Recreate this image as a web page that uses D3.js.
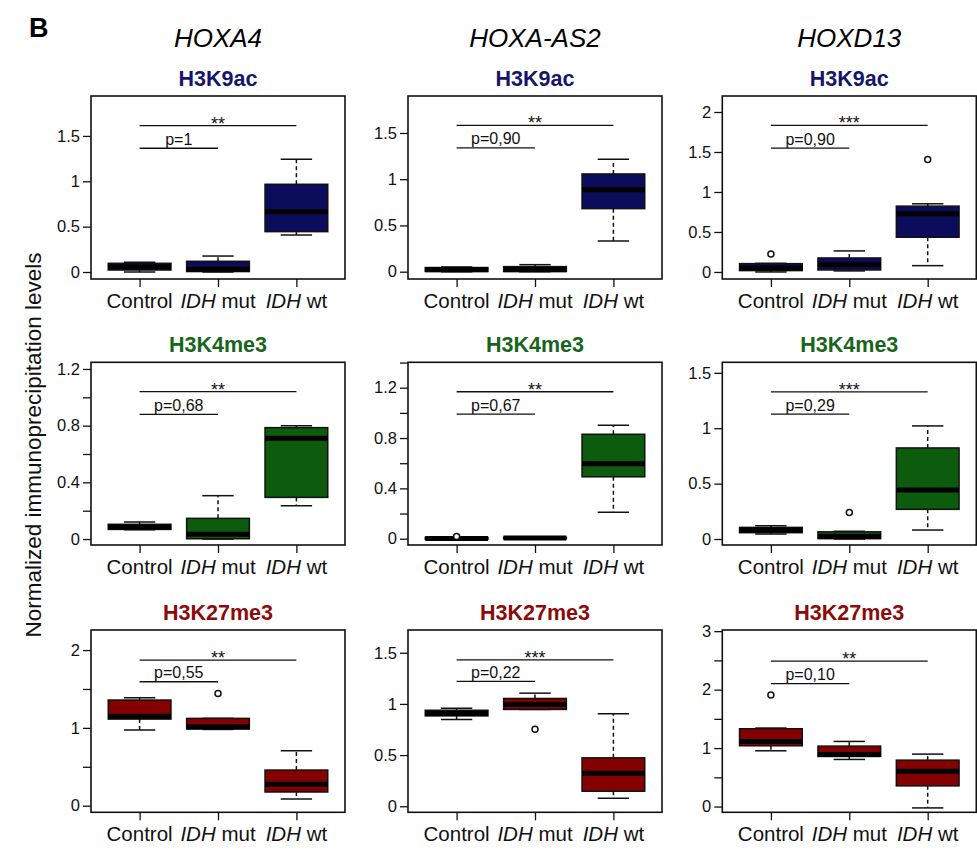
<!DOCTYPE html>
<html>
<head>
<meta charset="utf-8">
<script src="https://cdn.jsdelivr.net/npm/d3@7"></script>
<style>
  html, body { margin: 0; padding: 0; background: #fff; }
  svg { display: block; font-family: "Liberation Sans", Arial, sans-serif; }
</style>
</head>
<body>
<svg id="chart" width="977" height="851"></svg>
<script>
// ---------------- DATA ----------------
const genes = ["HOXA4", "HOXA-AS2", "HOXD13"];
const marks = ["H3K9ac", "H3K4me3", "H3K27me3"];
const groups = [["Control", ""], ["IDH", " mut"], ["IDH", " wt"]];

// box stats per gene, per group: [whiskerLow, q1, median, q3, whiskerHigh]
const h3k9acStats = [
  [[0, 0.022, 0.055, 0.096, 0.107], [0, 0.005, 0.03, 0.118, 0.176], [0.408, 0.445, 0.665, 0.967, 1.243]],
  [[0, 0.003, 0.02, 0.045, 0.05], [0, 0.003, 0.022, 0.055, 0.076], [0.332, 0.682, 0.887, 1.057, 1.215]],
  [[0, 0.017, 0.05, 0.104, 0.108], [0.013, 0.025, 0.09, 0.175, 0.263], [0.079, 0.434, 0.727, 0.823, 0.852]]
];
const h3k4me3Stats = [
  [[0.065, 0.068, 0.085, 0.104, 0.12], [0, 0.002, 0.033, 0.146, 0.306], [0.235, 0.294, 0.711, 0.786, 0.80]],
  [[-0.005, -0.003, 0.002, 0.01, 0.012], [0, 0, 0.005, 0.012, 0.015], [0.21, 0.492, 0.596, 0.83, 0.902]],
  [[0.045, 0.057, 0.081, 0.105, 0.12], [0, 0.003, 0.025, 0.065, 0.07], [0.081, 0.268, 0.443, 0.822, 1.021]]
];
const h3k27me3Stats = [
  [[0.972, 1.113, 1.148, 1.358, 1.388], [0.98, 0.985, 1.013, 1.122, 1.122], [0.086, 0.176, 0.274, 0.458, 0.707]],
  [[0.848, 0.883, 0.906, 0.938, 0.958], [0.946, 0.946, 0.995, 1.053, 1.105], [0.078, 0.147, 0.323, 0.473, 0.903]],
  [[0.954, 1.04, 1.114, 1.331, 1.343], [0.806, 0.857, 0.891, 1.034, 1.114], [-0.023, 0.354, 0.606, 0.794, 0.897]]
];
// outliers per gene, per group
const h3k9acOutliers   = [[[], [], []], [[], [], []], [[0.225], [], [1.407]]];
const h3k4me3Outliers  = [[[], [], []], [[0.018], [], []], [[], [0.24], []]];
const h3k27me3Outliers = [[[], [1.443], []], [[], [0.753], []], [[1.909], [], []]];

// significance: stars (Control vs IDH wt) and p-value (Control vs IDH mut)
const starLabels = [["**", "**", "***"], ["**", "**", "***"], ["**", "***", "**"]];
const pLabels = [["p=1", "p=0,90", "p=0,90"], ["p=0,68", "p=0,67", "p=0,29"], ["p=0,55", "p=0,22", "p=0,10"]];
const starBarY = [[1.614, 1.583, 1.833], [1.04, 1.168, 1.328], [1.872, 1.431, 2.486]];
const pBarY = [[1.364, 1.338, 1.549], [0.88, 0.99, 1.127], [1.593, 1.22, 2.103]];

// y-axis domains, tick steps and labelled tick steps
const yDomains = [
  [[-0.077, 1.94], [-0.079, 1.90], [-0.088, 2.20]],
  [[-0.042, 1.247], [-0.05, 1.402], [-0.054, 1.595]],
  [[-0.085, 2.258], [-0.059, 1.722], [-0.098, 3.02]]
];
const yTickStep = [[0.5, 0.5, 0.5], [0.2, 0.2, 0.5], [0.5, 0.5, 0.5]];
const yLabelStep = [[0.5, 0.5, 0.5], [0.4, 0.4, 0.5], [1, 0.5, 1]];

const allStats = [h3k9acStats, h3k4me3Stats, h3k27me3Stats];
const allOutliers = [h3k9acOutliers, h3k4me3Outliers, h3k27me3Outliers];

// ---------------- STYLE / LAYOUT ----------------
const fills = ["#0b0c5c", "#0d5c0d", "#850000"];
const titleColors = ["#15166a", "#16651a", "#8b0a0a"];
const colLeft = [91, 408, 722.3];
const colWidth = 254;
const rowTop = [96, 362.3, 630];
const rowBottom = [279, 545, 812.3];

const svg = d3.select("#chart");

svg.append("text").attr("x", 29).attr("y", 37).attr("font-size", 27).attr("font-weight", "bold").text("B");

genes.forEach((g, c) => {
  svg.append("text")
    .attr("x", colLeft[c] + (2 - 0.38) / 3.24 * colWidth)
    .attr("y", 47)
    .attr("text-anchor", "middle")
    .attr("font-size", 26).attr("font-style", "italic")
    .text(g);
});

svg.append("text")
  .attr("transform", "translate(41,445) rotate(-90)")
  .attr("text-anchor", "middle")
  .attr("font-size", 22.5)
  .attr("fill", "#111")
  .text("Normalized immunoprecipitation levels");

marks.forEach((m, r) => {
  genes.forEach((g, c) => {
    const stats = allStats[r][c];
    const outl = allOutliers[r][c];
    const x = d3.scaleLinear().domain([0.38, 3.62]).range([colLeft[c], colLeft[c] + colWidth]);
    const y = d3.scaleLinear().domain(yDomains[r][c]).range([rowBottom[r], rowTop[r]]);
    const gp = svg.append("g");

    gp.append("text")
      .attr("x", x(2)).attr("y", rowTop[r] - 10)
      .attr("text-anchor", "middle")
      .attr("font-size", 21.5).attr("font-weight", "bold")
      .attr("fill", titleColors[r])
      .text(m);

    const step = yTickStep[r][c], lstep = yLabelStep[r][c];
    const ymaxTick = Math.floor(yDomains[r][c][1] / step + 1e-6);
    const tv = d3.range(0, ymaxTick + 1).map(i => +(i * step).toFixed(3));
    const yAxis = d3.axisLeft(y).tickValues(tv).tickSize(8).tickPadding(3)
      .tickFormat(v => {
        const k = v / lstep;
        return Math.abs(k - Math.round(k)) < 1e-6 ? String(+v.toFixed(2)) : "";
      });
    const ya = gp.append("g").attr("transform", `translate(${colLeft[c]},0)`).call(yAxis);
    ya.select(".domain").remove();
    ya.selectAll("line").attr("stroke", "#111").attr("stroke-width", 1.3);
    ya.selectAll("text").attr("font-size", 16.5).attr("fill", "#111").attr("font-family", "Liberation Sans, Arial, sans-serif");

    const xAxis = d3.axisBottom(x).tickValues([1, 2, 3]).tickSize(8).tickFormat("");
    const xa = gp.append("g").attr("transform", `translate(0,${rowBottom[r]})`).call(xAxis);
    xa.select(".domain").remove();
    xa.selectAll("line").attr("stroke", "#111").attr("stroke-width", 1.3);

    groups.forEach((gr, i) => {
      const t = gp.append("text")
        .attr("x", x(i + 1)).attr("y", rowBottom[r] + 29)
        .attr("text-anchor", "middle").attr("font-size", 20.5).attr("fill", "#111");
      if (gr[1] === "") {
        t.text(gr[0]);
      } else {
        t.append("tspan").attr("font-style", "italic").text(gr[0]);
        t.append("tspan").text(gr[1]);
      }
    });

    const hw = 0.4, sw = 0.2;
    stats.forEach((s, i) => {
      const cx = i + 1;
      const [lo, q1, med, q3, hi] = s;
      gp.append("line").attr("x1", x(cx)).attr("x2", x(cx)).attr("y1", y(q3)).attr("y2", y(hi))
        .attr("stroke", "#111").attr("stroke-width", 1.5).attr("stroke-dasharray", "4,3");
      gp.append("line").attr("x1", x(cx)).attr("x2", x(cx)).attr("y1", y(q1)).attr("y2", y(lo))
        .attr("stroke", "#111").attr("stroke-width", 1.5).attr("stroke-dasharray", "4,3");
      gp.append("line").attr("x1", x(cx - sw)).attr("x2", x(cx + sw)).attr("y1", y(hi)).attr("y2", y(hi))
        .attr("stroke", "#111").attr("stroke-width", 1.5);
      gp.append("line").attr("x1", x(cx - sw)).attr("x2", x(cx + sw)).attr("y1", y(lo)).attr("y2", y(lo))
        .attr("stroke", "#111").attr("stroke-width", 1.5);
      gp.append("rect")
        .attr("x", x(cx - hw)).attr("width", x(cx + hw) - x(cx - hw))
        .attr("y", y(q3)).attr("height", Math.max(0.5, y(q1) - y(q3)))
        .attr("fill", fills[r]).attr("stroke", "#111").attr("stroke-width", 1.5);
      gp.append("line").attr("x1", x(cx - hw)).attr("x2", x(cx + hw)).attr("y1", y(med)).attr("y2", y(med))
        .attr("stroke", "#000").attr("stroke-width", 5);
      outl[i].forEach(v => {
        gp.append("circle").attr("cx", x(cx)).attr("cy", y(v)).attr("r", 3)
          .attr("fill", "#fff").attr("stroke", "#111").attr("stroke-width", 1.5);
      });
    });

    gp.append("line").attr("x1", x(1)).attr("x2", x(3)).attr("y1", y(starBarY[r][c])).attr("y2", y(starBarY[r][c]))
      .attr("stroke", "#111").attr("stroke-width", 1.3);
    gp.append("text").attr("x", x(2)).attr("y", y(starBarY[r][c]) + 4)
      .attr("text-anchor", "middle").attr("font-size", 18).attr("fill", "#111").text(starLabels[r][c]);
    gp.append("line").attr("x1", x(1)).attr("x2", x(2)).attr("y1", y(pBarY[r][c])).attr("y2", y(pBarY[r][c]))
      .attr("stroke", "#111").attr("stroke-width", 1.3);
    gp.append("text").attr("x", x(1.5)).attr("y", y(pBarY[r][c]) - 3.5)
      .attr("text-anchor", "middle").attr("font-size", 16).attr("fill", "#111").text(pLabels[r][c]);

    gp.append("rect")
      .attr("x", colLeft[c]).attr("y", rowTop[r])
      .attr("width", colWidth).attr("height", rowBottom[r] - rowTop[r])
      .attr("fill", "none").attr("stroke", "#111").attr("stroke-width", 1.6);
  });
});
</script>
</body>
</html>
